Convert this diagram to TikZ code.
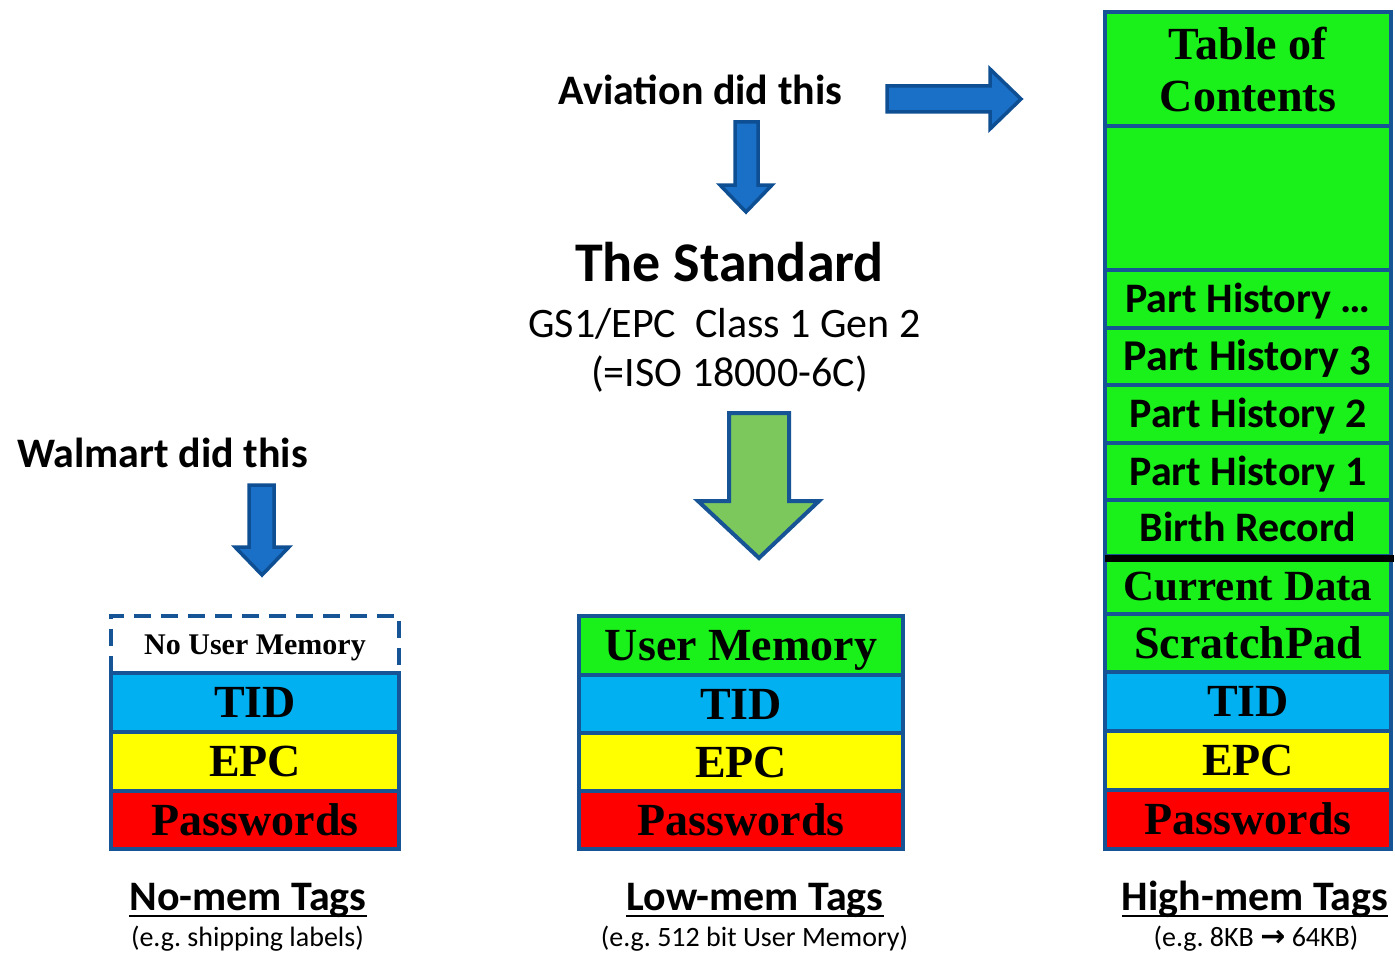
\documentclass[tikz,border=0pt]{standalone}
\usepackage{fontspec}
\setmainfont{Liberation Serif}
\newfontfamily\calfont{Carlito}
\newfontfamily\calold{Carlito}[Numbers=OldStyle]
\newfontfamily\serfont{Liberation Serif}
\newfontfamily\symfont{DejaVu Sans}
\newcommand\setfs[1]{\fontsize{#1}{#1}\selectfont}
\frenchspacing

\definecolor{edge}{RGB}{22,84,150}
\definecolor{tidblue}{RGB}{0,176,240}
\definecolor{epcyellow}{RGB}{255,255,0}
\definecolor{pwred}{RGB}{255,0,0}
\definecolor{memgreen}{RGB}{26,240,26}
\definecolor{arrowfill}{RGB}{26,111,198}
\definecolor{arrowedge}{RGB}{14,78,146}
\definecolor{stdgreen}{RGB}{125,200,93}

\tikzset{
  cell/.style={draw=edge, line width=4pt, inner sep=0pt, text height=30pt, text depth=0pt,
               font=\serfont\bfseries\setfs{46}},
  sanscell/.style={cell, text height=27pt, font=\calfont\bfseries\setfs{42}},
  blockarrow/.style={fill=arrowfill, draw=arrowedge, line width=3.5pt, line join=miter},
  greenarrow/.style={fill=stdgreen, draw=edge, line width=4pt, line join=miter},
  headline/.style={anchor=base, inner sep=0pt, font=\calfont\bfseries\setfs{42}},
  plainline/.style={anchor=base, inner sep=0pt, font=\calfont\setfs{42}},
  smallline/.style={anchor=base, inner sep=0pt, font=\calfont\setfs{28}},
  capline/.style={line width=2.6pt, line cap=butt}
}

\begin{document}
\begin{tikzpicture}[x=1pt, y=-1pt]
\useasboundingbox[fill=white] (0,0) rectangle (1395,955);

% ---- no-memory tag ----
\node[inner sep=0pt, minimum width=288, minimum height=57, text height=20pt, text depth=0pt,
      font=\serfont\bfseries\setfs{30}] (nouser) at (255,644.5) {No User Memory};
\draw[draw=edge, line width=4pt, dash pattern=on 17pt off 10pt]
  (nouser.south west) -- (nouser.north west) -- (nouser.north east) -- (nouser.south east);
\node[cell, fill=tidblue,   minimum width=288, minimum height=59] (tidA) at (255,702.5) {TID};
\node[cell, fill=epcyellow, minimum width=288, minimum height=59] (epcA) at (255,761.5) {EPC};
\node[cell, fill=pwred,     minimum width=288, minimum height=58] (pwA)  at (255,820)   {Passwords};

% ---- low-memory tag ----
\node[cell, fill=memgreen,  minimum width=324, minimum height=59] (umB)  at (741,645.5) {User Memory};
\node[cell, fill=tidblue,   minimum width=324, minimum height=58] (tidB) at (741,704)   {TID};
\node[cell, fill=epcyellow, minimum width=324, minimum height=58] (epcB) at (741,762)   {EPC};
\node[cell, fill=pwred,     minimum width=324, minimum height=58] (pwB)  at (741,820)   {Passwords};

% ---- high-memory tag ----
\node[cell, fill=memgreen, minimum width=286, minimum height=114] (toc) at (1248,69) {};
\node[inner sep=0pt, align=center, font=\serfont\bfseries\fontsize{46}{52}\selectfont]
  (toctext) at (1248,70) {Table of\\Contents};
\node[cell, fill=memgreen, minimum width=286, minimum height=144] (spare) at (1248,198) {};
\node[sanscell, fill=memgreen, minimum width=286, minimum height=58] (phN) at (1248,299) {Part History \ldots};
\node[sanscell, fill=memgreen, minimum width=286, minimum height=57, font=\calfont\bfseries\setfs{44}]
  (ph3) at (1248,356.5) {Part History {\calold 3}};
\node[sanscell, fill=memgreen, minimum width=286, minimum height=58] (ph2) at (1248,414) {Part History 2};
\node[sanscell, fill=memgreen, minimum width=286, minimum height=57] (ph1) at (1248,471.5) {Part History 1};
\node[sanscell, fill=memgreen, minimum width=286, minimum height=56] (birth) at (1248,528) {Birth Record};
\node[cell, fill=memgreen, minimum width=286, minimum height=58, font=\serfont\bfseries\setfs{43}]
  (current) at (1248,585) {Current Data};
\node[cell, fill=memgreen,  minimum width=286, minimum height=58] (scratch) at (1248,643) {ScratchPad};
\node[cell, fill=tidblue,   minimum width=286, minimum height=59] (tidC) at (1248,701.5) {TID};
\node[cell, fill=epcyellow, minimum width=286, minimum height=59] (epcC) at (1248,760.5) {EPC};
\node[cell, fill=pwred,     minimum width=286, minimum height=59] (pwC)  at (1248,819.5) {Passwords};
\draw[line width=7pt] ([xshift=2pt]birth.south west) -- ([xshift=1pt]birth.south east);

% ---- headings ----
\node[headline] (walmart) at (162.5,467) {Walmart did this};
\node[headline] (aviation) at (700.5,105) {Aviation did this};
\node[headline, font=\calfont\bfseries\setfs{56}] (standard) at (729.5,281) {The Standard};
\node[plainline] (gs1) at (724.5,337) {GS1/EPC\ \ Class 1 Gen 2};
\node[plainline] (iso) at (729.5,386) {(=ISO 18000-6C)};

% ---- block arrows ----
\draw[blockarrow] (887,86) -- (990,86) -- (990,69) -- (1021,99) -- (990,129) -- (990,112) -- (887,112) -- cycle;
\draw[blockarrow] (735,122) -- (758,122) -- (758,185) -- (772,185) -- (746,212) -- (720,185) -- (735,185) -- cycle;
\draw[blockarrow] (249,485) -- (274,485) -- (274,547) -- (289,547) -- (262,575) -- (235,547) -- (249,547) -- cycle;
\draw[greenarrow] (729,413) -- (789,413) -- (789,501) -- (819,501) -- (759,558) -- (698,501) -- (729,501) -- cycle;

% ---- captions ----
\node[headline] (capA) at (248,910) {No-mem Tags};
\draw[capline] ([yshift=-6pt]capA.base west) -- ([yshift=-6pt]capA.base east);
\node[smallline] (subA) at (247.5,946) {(e.g. shipping labels)};

\node[headline] (capB) at (755,910) {Low-mem Tags};
\draw[capline] ([yshift=-6pt]capB.base west) -- ([yshift=-6pt]capB.base east);
\node[smallline] (subB) at (754.5,946) {(e.g. 512 bit User Memory)};

\node[headline] (capC) at (1255,910) {High-mem Tags};
\draw[capline] ([yshift=-6pt]capC.base west) -- ([yshift=-6pt]capC.base east);
\node[smallline] (subC) at (1256,946) {(e.g. 8KB {\symfont\bfseries\setfs{30}→} 64KB)};
\end{tikzpicture}
\end{document}
